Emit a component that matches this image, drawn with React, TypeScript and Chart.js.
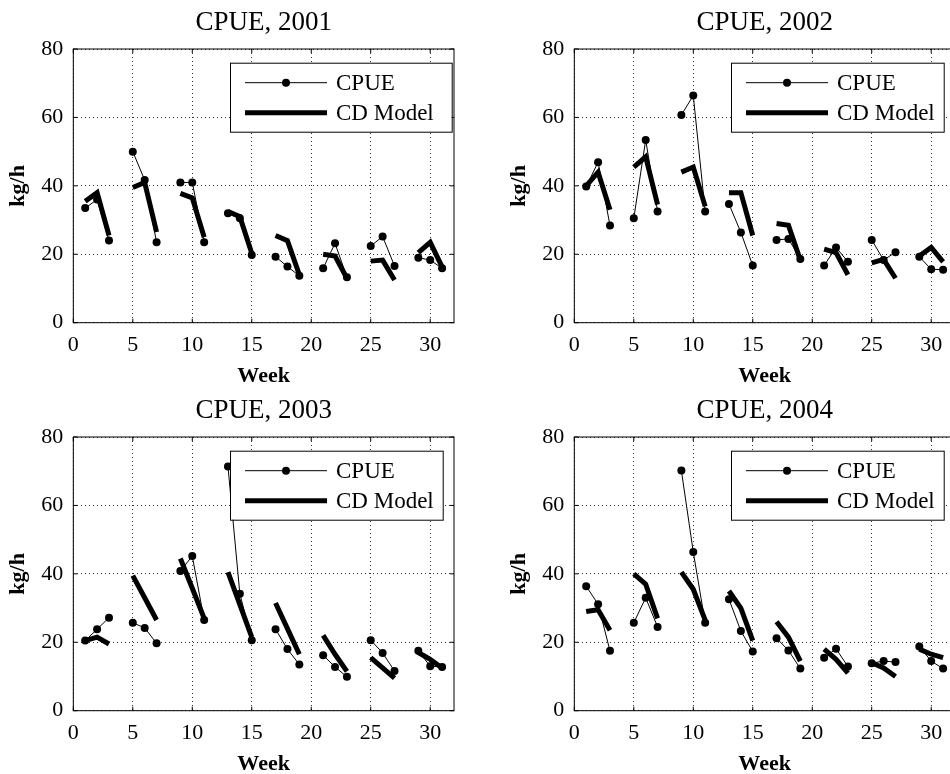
import React, { useEffect, useRef } from "react";
import { Chart, registerables } from "chart.js";

Chart.register(...registerables);

// ---- data ----
const weeks = [1, 2, 3, 5, 6, 7, 9, 10, 11, 13, 14, 15, 17, 18, 19, 21, 22, 23, 25, 26, 27, 29, 30, 31];
const xTicks = [0, 5, 10, 15, 20, 25, 30];
const yTicks = [0, 20, 40, 60, 80];

const cpue2001 = [33.5, 36, 24, 50, 41.7, 23.5, 41, 41, 23.5, 32, 30.5, 19.8, 19.3, 16.4, 13.7, 15.9, 23.2, 13.3, 22.4, 25.2, 16.6, 19, 18.3, 15.9];
const model2001 = [35.5, 38, 25.5, 39.5, 41, 26.5, 37.8, 36.5, 25, 32.5, 31, 20.3, 25.5, 24, 14, 20, 19.5, 13, 18, 18.3, 12.5, 20.5, 23.5, 16.3];

const cpue2002 = [39.8, 46.9, 28.4, 30.5, 53.4, 32.5, 60.7, 66.4, 32.5, 34.7, 26.4, 16.7, 24.2, 24.5, 18.6, 16.7, 22, 17.8, 24.2, 18.3, 20.6, 19.3, 15.6, 15.5];
const model2002 = [40, 44, 33, 45.5, 48.5, 34.5, 44, 45.5, 34, 38, 38, 25.5, 29, 28.5, 18.3, 21.5, 20.5, 14, 17.5, 18.5, 13, 19.5, 22, 17.8];

const cpue2003 = [20.5, 23.8, 27.2, 25.7, 24.2, 19.7, 40.8, 45.2, 26.5, 71.4, 34.2, 20.6, 23.8, 18, 13.5, 16.2, 12.8, 9.9, 20.6, 16.9, 11.6, 17.5, 13, 12.8];
const model2003 = [20.5, 21.5, 19.5, 39.5, 33, 26.5, 44.5, 35.8, 27, 40.5, 31, 21.5, 31.5, 24, 16.5, 22, 16.5, 11.5, 15.5, 12.5, 9.5, 17, 15, 12.5];

const cpue2004 = [36.4, 31.1, 17.5, 25.7, 33, 24.5, 70.2, 46.4, 25.7, 32.6, 23.3, 17.3, 21.2, 17.6, 12.3, 15.5, 18.1, 12.9, 13.9, 14.5, 14.2, 18.8, 14.5, 12.3];
const model2004 = [29, 29.5, 23.5, 40, 37, 27, 40.5, 35.5, 26.5, 35, 30, 20.5, 26, 21.5, 14.5, 18, 15, 11, 14, 12.5, 10, 18, 16.5, 15.5];

const titles = ["CPUE, 2001", "CPUE, 2002", "CPUE, 2003", "CPUE, 2004"];
const seriesNames = ["CPUE", "CD Model"];

const FONT = "'Liberation Serif', 'Times New Roman', serif";

function buildSeries(vals: number[]) {
  const out: { x: number; y: number | null }[] = [];
  vals.forEach((v, i) => {
    if (i > 0 && i % 3 === 0) out.push({ x: weeks[i] - 1, y: null });
    out.push({ x: weeks[i], y: v });
  });
  return out;
}

const W = 475;
const H = 387;

function makeDecorPlugin(title: string, boxWidth: number) {
  return {
    id: "matlabDecor",
    afterDraw(chart: any) {
      const { ctx, chartArea } = chart;
      ctx.save();
      // title centred over the axes
      ctx.font = `27px ${FONT}`;
      ctx.fillStyle = "#000";
      ctx.textAlign = "center";
      ctx.textBaseline = "middle";
      ctx.fillText(title, (chartArea.left + chartArea.right) / 2, chartArea.top - 26);

      // box frame around axes
      ctx.strokeStyle = "#000";
      ctx.lineWidth = 1;
      ctx.strokeRect(chartArea.left, chartArea.top, chartArea.right - chartArea.left, chartArea.bottom - chartArea.top);
      // inward tick marks
      ctx.beginPath();
      const xs = chart.scales.x;
      const ys = chart.scales.y;
      xTicks.forEach((t) => {
        const px = xs.getPixelForValue(t);
        ctx.moveTo(px, chartArea.bottom);
        ctx.lineTo(px, chartArea.bottom - 4);
        ctx.moveTo(px, chartArea.top);
        ctx.lineTo(px, chartArea.top + 4);
      });
      yTicks.forEach((t) => {
        const py = ys.getPixelForValue(t);
        ctx.moveTo(chartArea.left, py);
        ctx.lineTo(chartArea.left + 4, py);
        ctx.moveTo(chartArea.right, py);
        ctx.lineTo(chartArea.right - 4, py);
      });
      ctx.stroke();

      // legend
      const left = chartArea.left + 156.7;
      const top = chartArea.top + 13.7;
      const h = 69;
      ctx.fillStyle = "#fff";
      ctx.fillRect(left, top, boxWidth, h);
      ctx.strokeRect(left + 0.5, top + 0.5, boxWidth, h);
      const x1 = left + 15;
      const x2 = left + 97;
      const r1 = top + 20;
      const r2 = top + 50;
      ctx.beginPath();
      ctx.lineWidth = 1;
      ctx.moveTo(x1, r1);
      ctx.lineTo(x2, r1);
      ctx.stroke();
      ctx.beginPath();
      ctx.fillStyle = "#000";
      ctx.arc((x1 + x2) / 2, r1, 4, 0, Math.PI * 2);
      ctx.fill();
      ctx.beginPath();
      ctx.lineWidth = 5;
      ctx.moveTo(x1, r2);
      ctx.lineTo(x2, r2);
      ctx.stroke();
      ctx.font = `23px ${FONT}`;
      ctx.textBaseline = "middle";
      ctx.textAlign = "left";
      ctx.fillStyle = "#000";
      ctx.fillText(seriesNames[0], left + 106, r1 + 1);
      ctx.fillText(seriesNames[1], left + 106, r2 + 1);
      ctx.restore();
    },
  };
}

function Panel(props: { title: string; cpue: number[]; model: number[]; left: number; top: number; legendWidth: number }) {
  const ref = useRef<HTMLCanvasElement>(null);
  useEffect(() => {
    if (!ref.current) return;
    const gridOpts = { color: "#333", lineWidth: 1, drawTicks: false };
    const chart = new Chart(ref.current, {
      type: "line",
      data: {
        datasets: [
          {
            label: seriesNames[1],
            data: buildSeries(props.model),
            borderColor: "#000",
            backgroundColor: "#000",
            borderWidth: 5,
            pointRadius: 0,
            spanGaps: false,
            order: 0,
          },
          {
            label: seriesNames[0],
            data: buildSeries(props.cpue),
            borderColor: "#000",
            backgroundColor: "#000",
            borderWidth: 1,
            pointRadius: 4,
            pointBorderWidth: 0,
            pointBackgroundColor: "#000",
            spanGaps: false,
            order: 1,
          },
        ],
      },
      options: {
        animation: false,
        responsive: false,
        devicePixelRatio: 1,
        layout: { padding: { left: 0, top: 49, right: W - 454, bottom: 0 } },
        plugins: {
          legend: { display: false },
          tooltip: { enabled: false },
          title: { display: false },
        },
        scales: {
          x: {
            type: "linear",
            min: 0,
            max: 32,
            afterFit: (s: any) => {
              s.height = H - 322.7;
            },
            afterBuildTicks: (s: any) => {
              s.ticks = xTicks.map((v) => ({ value: v }));
            },
            ticks: {
              color: "#000",
              font: { family: FONT, size: 22 },
              padding: 9,
              maxRotation: 0,
              autoSkip: false,
            },
            grid: gridOpts,
            border: { display: false, dash: [1, 3] },
            title: {
              display: true,
              text: "Week",
              color: "#000",
              font: { family: FONT, size: 22, weight: "bold", lineHeight: 1.0 },
              padding: { top: 0, bottom: 0 },
            },
          },
          y: {
            type: "linear",
            min: 0,
            max: 80,
            afterFit: (s: any) => {
              s.width = 73.3;
            },
            afterBuildTicks: (s: any) => {
              s.ticks = yTicks.map((v) => ({ value: v }));
            },
            ticks: {
              color: "#000",
              font: { family: FONT, size: 22 },
              padding: 10,
            },
            grid: gridOpts,
            border: { display: false, dash: [1, 3] },
            title: {
              display: true,
              text: "kg/h",
              color: "#000",
              font: { family: FONT, size: 22, weight: "bold", lineHeight: 1.0 },
              padding: { top: 7, bottom: 0 },
            },
          },
        },
      },
      plugins: [makeDecorPlugin(props.title, props.legendWidth)],
    } as any);
    return () => chart.destroy();
  }, []);
  return (
    <canvas
      ref={ref}
      width={W}
      height={H}
      style={{ position: "absolute", left: props.left, top: props.top, width: W, height: H }}
    />
  );
}

export default function App() {
  return (
    <div
      style={{
        position: "fixed",
        left: 0,
        top: 0,
        width: 950,
        height: 774,
        overflow: "hidden",
        background: "#fff",
      }}
    >
      <Panel title={titles[0]} cpue={cpue2001} model={model2001} left={0} top={0} legendWidth={221.7} />
      <Panel title={titles[1]} cpue={cpue2002} model={model2002} left={501} top={0} legendWidth={212.7} />
      <Panel title={titles[2]} cpue={cpue2003} model={model2003} left={0} top={388} legendWidth={212.7} />
      <Panel title={titles[3]} cpue={cpue2004} model={model2004} left={501} top={388} legendWidth={212.7} />
    </div>
  );
}
